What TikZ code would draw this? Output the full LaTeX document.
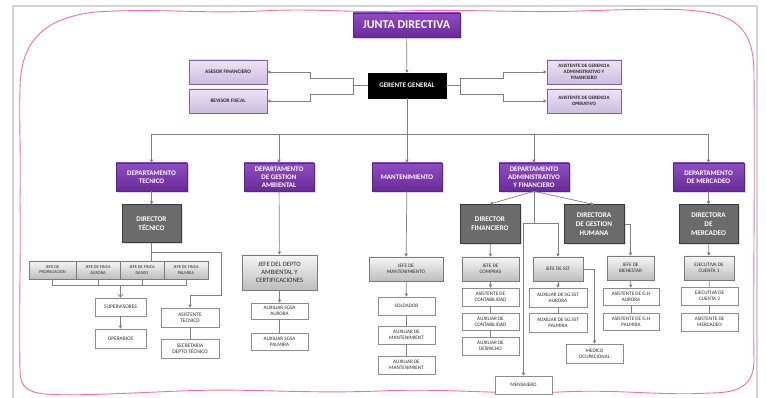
\documentclass[tikz,border=0pt]{standalone}
\usepackage{fontspec}
\setmainfont{Carlito}
\usetikzlibrary{arrows.meta,shadows}
\definecolor{purtop}{HTML}{8E4EC2}
\definecolor{purbot}{HTML}{6A2A9A}
\definecolor{purdraw}{HTML}{5B2385}
\definecolor{lavtop}{HTML}{ECE5F4}
\definecolor{lavbot}{HTML}{CDBCE0}
\definecolor{lavdraw}{HTML}{8064A2}
\definecolor{dirfill}{HTML}{6B6B6B}
\definecolor{dirdraw}{HTML}{3A3A3A}
\definecolor{gtop}{HTML}{F5F5F5}
\definecolor{gbot}{HTML}{BEBEBE}
\definecolor{gdraw}{HTML}{7A7A7A}
\definecolor{wdraw}{HTML}{8C8C8C}
\definecolor{txt}{HTML}{2A2A2A}
\definecolor{linegray}{HTML}{808080}
\definecolor{framepink}{HTML}{EE6DB8}
\definecolor{framegray}{HTML}{D4D4D4}
\tikzset{
  sz/.style 2 args={minimum width=#1pt, minimum height=#2pt},
  base/.style={draw, align=center, inner sep=0pt, text=txt, font=\fontsize{5.2}{6}\selectfont},
  wbox/.style={base, fill=white, draw=wdraw, line width=0.6pt},
  gbox/.style={base, top color=gtop, bottom color=gbot, draw=gdraw, line width=0.6pt,
    drop shadow={shadow xshift=1.2pt, shadow yshift=-1.2pt, opacity=0.25}},
  rowbox/.style={base, top color=gtop, bottom color=gbot, draw=gdraw, line width=0.6pt,
    font=\fontsize{4.4}{5.2}\selectfont,
    drop shadow={shadow xshift=1.2pt, shadow yshift=-1.5pt, opacity=0.25}},
  lavbox/.style={base, top color=lavtop, bottom color=lavbot, draw=lavdraw, line width=0.8pt,
    font=\bfseries\fontsize{5.3}{6}\selectfont},
  purbox/.style={base, top color=purtop, bottom color=purbot, draw=purdraw, line width=0.6pt,
    text=white, font=\bfseries\fontsize{7}{8}\selectfont,
    drop shadow={shadow xshift=2pt, shadow yshift=-2pt, opacity=0.3}},
  dirbox/.style={base, fill=dirfill, draw=dirdraw, line width=1pt, text=white,
    font=\bfseries\fontsize{7.2}{9}\selectfont,
    drop shadow={shadow xshift=1.5pt, shadow yshift=-1.5pt, opacity=0.25}},
  conn/.style={draw=linegray, line width=0.7pt},
  arr/.style={conn, -{Triangle[length=3pt,width=3.2pt]}},
  oarr/.style={conn, -{Straight Barb[length=3pt,width=5pt]}},
}
\begin{document}
\begin{tikzpicture}[x=1pt,y=-1pt]
\useasboundingbox (0,0) rectangle (766,398);
\fill[white] (0,0) rectangle (766,398);
% outer gray frame
\draw[framegray, line width=1.3pt] (13,400) -- (13,6) -- (757,6) -- (757,400);
% pink wavy frame
\draw[framepink, line width=0.9pt]
 (20,200) .. controls (21,150) and (19,120) .. (20,90)
 .. controls (20,40) and (45,18) .. (95,12)
 .. controls (160,8) and (200,14) .. (260,11)
 .. controls (320,8) and (340,13) .. (400,11)
 .. controls (470,9) and (520,13) .. (580,11)
 .. controls (640,9) and (680,8) .. (705,12)
 .. controls (745,18) and (754,40) .. (754,75)
 .. controls (755,200) and (753,300) .. (754,360)
 .. controls (754,385) and (740,393) .. (710,393)
 .. controls (660,396) and (620,389) .. (560,392)
 .. controls (500,395) and (450,388) .. (380,391)
 .. controls (300,394) and (250,388) .. (180,391)
 .. controls (110,394) and (70,396) .. (45,394)
 .. controls (25,392) and (20,385) .. (20,370)
 .. controls (19,300) and (21,250) .. (20,200) -- cycle;

% top level
\node[purbox, sz={107}{24}, font=\bfseries\fontsize{12}{13}\selectfont] (junta) at (406.5,25) {JUNTA DIRECTIVA};
\node[base, sz={78}{25}, fill=black, draw=black, text=white, font=\bfseries\fontsize{7}{8}\selectfont] (ger) at (407,85.5) {GERENTE GENERAL};
\node[lavbox, sz={78}{24}] (asesor) at (228,72) {ASESOR FINANCIERO};
\node[lavbox, sz={78}{24}] (revisor) at (228,101) {REVISOR FISCAL};
\node[lavbox, sz={74}{24}, font=\bfseries\fontsize{5}{5.8}\selectfont] (asisaf) at (584,72) {ASISTENTE DE GERENCIA\\ADMINISTRATIVO Y\\FINANCIERO};
\node[lavbox, sz={74}{24}, font=\bfseries\fontsize{5}{5.8}\selectfont] (asisop) at (584,101) {ASISTENTE DE GERENCIA\\OPERATIVO};

% departments
\node[purbox, sz={71}{28}] (dtec) at (151.5,177) {DEPARTAMENTO\\TECNICO};
\node[purbox, sz={70}{28}] (damb) at (279,177) {DEPARTAMENTO\\DE GESTION\\AMBIENTAL};
\node[purbox, sz={70}{28}] (mant) at (407,177) {MANTENIMIENTO};
\node[purbox, sz={70}{28}] (dadm) at (534,177) {DEPARTAMENTO\\ADMINISTRATIVO\\Y FINANCIERO};
\node[purbox, sz={71}{28}] (dmer) at (708.5,177) {DEPARTAMENTO\\DE MERCADEO};

% directors
\node[dirbox, sz={59}{38}] (dirtec) at (151.5,224) {DIRECTOR\\TÉCNICO};
\node[dirbox, sz={60}{39}] (dirfin) at (490,224) {DIRECTOR\\FINANCIERO};
\node[dirbox, sz={60}{39}] (dirgh) at (594,224.5) {DIRECTORA\\DE GESTION\\HUMANA};
\node[dirbox, sz={59}{39}] (dirmer) at (708.5,224.5) {DIRECTORA\\DE\\MERCADEO};

% tecnico branch
\node[rowbox, sz={47}{18}] (jprop) at (52.5,270) {JEFE DE\\PROPAGACION};
\node[rowbox, sz={44}{18}] (jaur) at (98,270) {JEFE DE FINCA\\AURORA};
\node[rowbox, sz={44}{18}] (jdan) at (142,270) {JEFE DE FINCA\\DANDY};
\node[rowbox, sz={44}{18}] (jpal) at (186,270) {JEFE DE FINCA\\PALMIRA};
\node[wbox, sz={51}{18}, font=\fontsize{5.4}{6.2}\selectfont] (sup) at (120.5,307) {SUPERVISORES};
\node[wbox, sz={51}{19}, font=\fontsize{5.4}{6.2}\selectfont] (oper) at (120.5,338.5) {OPERARIOS};
\node[wbox, sz={58}{19}, font=\fontsize{5.4}{6.2}\selectfont] (asistec) at (190,317.5) {ASISTENTE\\TECNICO};
\node[wbox, sz={58}{19}, font=\fontsize{5.4}{6.2}\selectfont] (secre) at (190,348.5) {SECRETARIA\\DEPTO TÉCNICO};

% ambiental branch
\node[gbox, sz={75}{35}, font=\fontsize{6.6}{7.8}\selectfont] (jamb) at (279.5,272.5) {JEFE DEL DEPTO\\AMBIENTAL Y\\CERTIFICACIONES};
\node[wbox, sz={57}{16}] (sgsaa) at (279.5,311) {AUXILIAR SGSA\\AURORA};
\node[wbox, sz={57}{17}] (sgsap) at (279.5,341.5) {AUXILIAR SGSA\\PALMIRA};

% mantenimiento branch
\node[gbox, sz={74}{24}] (jmant) at (406,269) {JEFE DE\\MANTENIMIENTO};
\node[wbox, sz={57}{18}] (sold) at (406.5,306) {SOLDADOR};
\node[wbox, sz={57}{18}] (auxm1) at (406.5,335) {AUXILIAR DE\\MANTENIMIENT};
\node[wbox, sz={57}{18}] (auxm2) at (406.5,365) {AUXILIAR DE\\MANTENIMIENT};

% administrativo branch
\node[gbox, sz={57}{24}] (jcomp) at (490.5,269) {JEFE DE\\COMPRAS};
\node[wbox, sz={57}{18}] (acont) at (490.5,297) {ASISTENTE DE\\CONTABILIDAD};
\node[wbox, sz={57}{17}] (xcont) at (490.5,321.5) {AUXILIAR DE\\CONTABILIDAD};
\node[wbox, sz={57}{18}] (xdesp) at (490.5,346) {AUXILIAR DE\\DESPACHO};
\node[gbox, sz={50}{24}] (jsst) at (558,269) {JEFE DE SST};
\node[wbox, sz={58}{19}] (ssta) at (558,297.5) {AUXILIAR DE SG.SST\\AURORA};
\node[wbox, sz={58}{19}] (sstp) at (558,322.5) {AUXILIAR DE SG.SST\\PALMIRA};
\node[wbox, sz={57}{19}] (medico) at (594.5,353.5) {MEDICO\\OCUPACIONAL};
\node[wbox, sz={57}{18}] (mensa) at (523.5,385) {MENSAJERO};
\node[gbox, sz={47}{24}] (jbien) at (630.5,268) {JEFE DE\\BIENESTAR};
\node[wbox, sz={56}{17}] (gha) at (631,296.5) {ASISTENTE DE G.H\\AURORA};
\node[wbox, sz={56}{17}] (ghp) at (631,321.5) {ASISTENTE DE G.H\\PALMIRA};

% mercadeo branch
\node[gbox, sz={50}{24}] (ejec1) at (709,268) {EJECUTIVA DE\\CUENTA 1};
\node[wbox, sz={57}{18}] (ejec2) at (709.5,296) {EJECUTIVA DE\\CUENTA 2};
\node[wbox, sz={57}{18}] (amerc) at (709.5,322) {ASISTENTE DE\\MERCADEO};

% coordinates
\coordinate (gl) at (353,85.5);
\coordinate (gr) at (460,85.5);
\coordinate (busL) at (151.5,134);
\coordinate (busR) at (708.5,134);
\coordinate (busA) at (279,134);
\coordinate (busD) at (534,134);
\coordinate (tb) at (151.5,252);
\coordinate (tr) at (221,252);
\coordinate (tr2) at (221,295);
\coordinate (tr3) at (190,295);
\coordinate (rowL) at (52.5,285);
\coordinate (rowR) at (186,285);
\coordinate (rowM) at (120.5,285);
\coordinate (ad1) at (534,223);
\coordinate (adL) at (523.5,223);
\coordinate (adR) at (558,223);
\coordinate (sstr) at (594.5,269);
\coordinate (ghr) at (630.5,224.5);

% connectors top
\draw[arr] (junta) -- (ger);
\draw[arr] (ger.west) -- (gl) |- (310,78) |- (asesor.east);
\draw[arr] (gl) |- (310,94) |- (revisor.east);
\draw[arr] (ger.east) -- (gr) |- (503,78) |- (asisaf.west);
\draw[arr] (gr) |- (503,94) |- (asisop.west);
\draw[arr] (ger) -- (mant);
\draw[conn] (busL) -- (busR);
\draw[arr] (busL) -- (dtec);
\draw[arr] (busA) -- (damb);
\draw[arr] (busD) -- (dadm);
\draw[arr] (busR) -- (dmer);

% tecnico
\draw[arr] (dtec) -- (dirtec);
\draw[conn] (dirtec.south) -- (jdan.north -| dirtec.south);
\draw[arr] (tb) -- (tr) -- (tr2) -- (tr3) -- (asistec);
\draw[conn] (asistec) -- (secre);
\draw[conn] (jprop.south) -- (rowL) -- (rowR) -- (jpal.south);
\draw[conn] (jaur.south) -- (jaur.south |- rowL);
\draw[conn] (jdan.south) -- (jdan.south |- rowL);
\draw[oarr] (rowM) -- (sup);
\draw[arr] (sup) -- (oper);

% ambiental
\draw[arr] (damb) -- (jamb);
\draw[arr] (jamb) -- (sgsaa);
\draw[conn] (sgsaa) -- (sgsap);

% mantenimiento
\draw[arr] (mant) -- (jmant);
\draw[arr] (jmant) -- (sold);
\draw[conn] (sold) -- (auxm1);
\draw[conn] (auxm1) -- (auxm2);

% administrativo
\draw[arr] (dadm.south) -- (dirfin.north);
\draw[arr] (dadm.south) -- (dirgh.north);
\draw[conn] (dadm.south) -- (ad1);
\draw[conn] (adL) -- (adR);
\draw[arr] (adL) -- (mensa);
\draw[arr] (adR) -- (jsst);
\draw[arr] (dirfin) -- (jcomp);
\draw[arr] (jcomp) -- (acont);
\draw[conn] (acont) -- (xcont);
\draw[conn] (xcont) -- (xdesp);
\draw[arr] (jsst) -- (ssta);
\draw[conn] (ssta) -- (sstp);
\draw[arr] (jsst.east) -- (sstr) -- (medico);
\draw[arr] (dirgh.east) -- (ghr) -- (jbien);
\draw[arr] (jbien) -- (gha);
\draw[conn] (gha) -- (ghp);

% mercadeo
\draw[arr] (dmer) -- (dirmer);
\draw[arr] (dirmer) -- (ejec1);
\draw[conn] (ejec1) -- (ejec2);
\draw[conn] (ejec2) -- (amerc);
\end{tikzpicture}
\end{document}
